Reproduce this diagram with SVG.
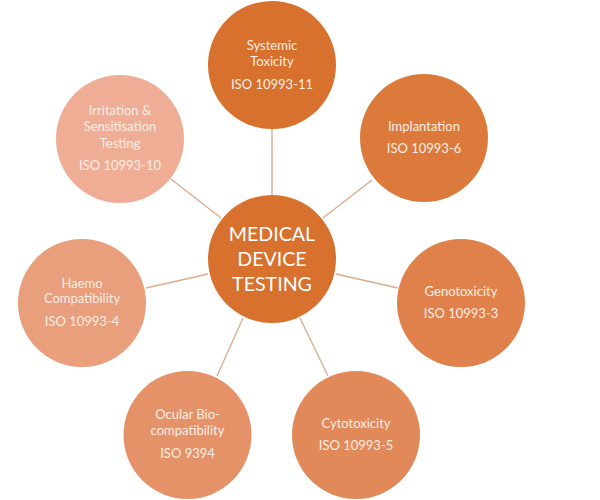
<svg xmlns="http://www.w3.org/2000/svg" width="600" height="500" viewBox="0 0 600 500">
<style>
text{font-family:"Lato","Liberation Sans",sans-serif;fill:#fbeee6;font-size:13px;text-anchor:middle}
.c{font-size:19.6px;fill:#fff}
line{stroke:#dbad8d;stroke-width:1.4}
</style>
<rect width="600" height="500" fill="#fff"/>
<g id="connectors">
<line x1="272" y1="129" x2="272" y2="195"/>
<line x1="372" y1="180" x2="323" y2="218"/>
<line x1="398" y1="288" x2="336" y2="274"/>
<line x1="328" y1="376" x2="300" y2="318"/>
<line x1="217" y1="376" x2="243" y2="318"/>
<line x1="146" y1="288" x2="208" y2="274"/>
<line x1="171" y1="179" x2="221" y2="218"/>
</g>
<g id="node-systemic"><circle cx="272" cy="65" r="64" fill="#d8712d"/><text x="272" y="50">Systemic</text><text x="272" y="66">Toxicity</text><text x="272" y="89">ISO 10993-11</text></g>
<g id="node-implantation"><circle cx="424" cy="138" r="64" fill="#dc7a3c"/><text x="424" y="131">Implantation</text><text x="424" y="153">ISO 10993-6</text></g>
<g id="node-genotoxicity"><circle cx="461" cy="303" r="64" fill="#e0814c"/><text x="461" y="296">Genotoxicity</text><text x="461" y="318">ISO 10993-3</text></g>
<g id="node-cytotoxicity"><circle cx="356" cy="435" r="64" fill="#e2895a"/><text x="356" y="428">Cytotoxicity</text><text x="356" y="450">ISO 10993-5</text></g>
<g id="node-ocular"><circle cx="187.500" cy="435" r="64" fill="#e59268"/><text x="187.500" y="419">Ocular Bio-</text><text x="187.500" y="435">compatibility</text><text x="187.500" y="458">ISO 9394</text></g>
<g id="node-haemo"><circle cx="82" cy="303" r="64" fill="#e99e7c"/><text x="82" y="288">Haemo</text><text x="82" y="303">Compatibility</text><text x="82" y="326">ISO 10993-4</text></g>
<g id="node-irritation"><circle cx="120" cy="139" r="64" fill="#f0ad96"/><text x="120" y="115">Irritation &amp;</text><text x="120" y="131">Sensitisation</text><text x="120" y="148">Testing</text><text x="120" y="170">ISO 10993-10</text></g>
<g id="node-center"><circle cx="272" cy="259" r="64" fill="#d8712d"/><text class="c" x="272" y="241">MEDICAL</text><text class="c" x="272" y="266">DEVICE</text><text class="c" x="272" y="291">TESTING</text></g>
</svg>
